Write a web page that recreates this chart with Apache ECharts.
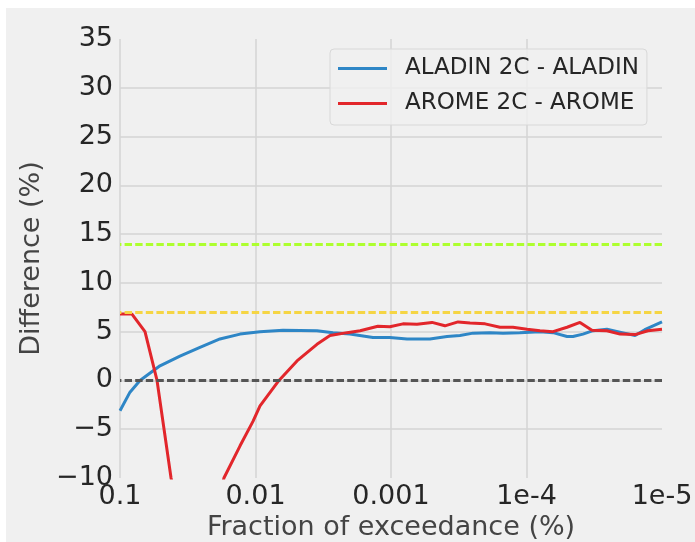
<!DOCTYPE html>
<html>
<head>
<meta charset="utf-8">
<script src="https://cdn.jsdelivr.net/npm/echarts@6/dist/echarts.min.js"></script>
<style>
html,body{margin:0;padding:0;background:#fff;}
#chart{width:695px;height:542px;}
</style>
</head>
<body>
<div id="chart"></div>
<script>
// ---- data ----
const seriesNames = ['ALADIN 2C - ALADIN', 'AROME 2C - AROME'];
const xTickLabels = ['0.1', '0.01', '0.001', '1e-4', '1e-5'];
const xTickValues = [0.1, 0.01, 0.001, 0.0001, 0.00001];

const aladinX = [0.1, 0.0844, 0.0712, 0.0507, 0.0361, 0.0257, 0.0183, 0.0130, 0.00926, 0.00627,
  0.00352, 0.00268, 0.00201, 0.00136, 0.00102, 0.000762, 0.000516, 0.000386, 0.000310, 0.000248,
  0.000186, 0.000149, 0.000112, 0.0000795, 0.0000637, 0.0000502, 0.0000454, 0.0000383, 0.0000323,
  0.0000255, 0.0000197, 0.0000158, 0.0000134, 0.00001];
const aladinY = [-3.1, -1.2, 0.0, 1.5, 2.5, 3.4, 4.25, 4.75, 5.0, 5.15,
  5.1, 4.9, 4.75, 4.4, 4.4, 4.25, 4.25, 4.5, 4.6, 4.85,
  4.9, 4.85, 4.9, 5.0, 4.9, 4.5, 4.5, 4.75, 5.1,
  5.25, 4.9, 4.6, 5.2, 6.0];

const aromeX = [0.1, 0.0816, 0.0654, 0.0533, 0.0473, 0.0420, 0.0270, 0.0171, 0.0130, 0.01044,
  0.00926, 0.00671, 0.00494, 0.00352, 0.00282, 0.00211, 0.00169, 0.00125, 0.00102, 0.000816,
  0.000643, 0.000498, 0.000400, 0.000320, 0.000261, 0.000202, 0.000157, 0.000126, 0.0000991,
  0.0000795, 0.0000637, 0.0000502, 0.0000403, 0.0000329, 0.0000255, 0.0000204, 0.0000158,
  0.0000127, 0.00001];
const aromeY = [6.8, 6.8, 5.0, 0.0, -5.0, -10.0, -22.0, -10.0, -6.7, -4.2,
  -2.6, 0.0, 2.0, 3.7, 4.6, 4.9, 5.1, 5.55, 5.5, 5.8,
  5.75, 5.95, 5.6, 6.0, 5.9, 5.8, 5.45, 5.45, 5.25,
  5.1, 5.0, 5.45, 5.95, 5.15, 5.1, 4.75, 4.7, 5.1, 5.25];

const refLevels = [14, 7, 0];
const refColors = ['#adff2f', '#f5d544', '#555555'];

// ---- chart ----
const font = 'DejaVu Sans';
const chart = echarts.init(document.getElementById('chart'), null, {renderer: 'canvas'});

function pairs(xs, ys) { return xs.map((x, i) => [x, ys[i]]); }

function xLabel(v) {
  const e = Math.round(Math.log10(v));
  for (let i = 0; i < xTickValues.length; i++) {
    if (Math.round(Math.log10(xTickValues[i])) === e) return xTickLabels[i];
  }
  return '';
}

const option = {
  backgroundColor: '#ffffff',
  animation: false,
  graphic: [{
    type: 'rect', z: -10, silent: true,
    shape: {x: 6, y: 8, width: 689, height: 534},
    style: {fill: '#f0f0f0'}
  }],
  grid: {left: 120, right: 33, top: 39, bottom: 64, containLabel: false, outerBoundsMode: 'none'},
  legend: {
    data: seriesNames,
    orient: 'vertical',
    left: 330, top: 49,
    padding: [6, 8, 8, 8],
    itemGap: 8,
    icon: 'rect',
    itemWidth: 49, itemHeight: 3,
    backgroundColor: 'rgba(240,240,240,0.8)',
    borderColor: '#d8d8d8', borderWidth: 1, borderRadius: 4,
    textStyle: {fontFamily: font, fontSize: 23, color: '#262626', lineHeight: 27, padding: [0, 0, 0, 13]}
  },
  xAxis: {
    type: 'log', logBase: 10, min: 0.00001, max: 0.1, inverse: true,
    name: 'Fraction of exceedance (%)', nameLocation: 'middle', nameGap: 36,
    nameTextStyle: {fontFamily: font, fontSize: 27, color: '#444444'},
    axisLine: {show: false}, axisTick: {show: false},
    axisLabel: {fontFamily: font, fontSize: 27, color: '#262626', margin: 5, formatter: xLabel},
    splitLine: {show: true, showMinLine: false, showMaxLine: false, lineStyle: {color: '#d4d4d4', width: 1.5}}
  },
  yAxis: {
    type: 'value', min: -10, max: 35, interval: 5,
    name: 'Difference (%)', nameLocation: 'middle', nameGap: 71,
    nameTextStyle: {fontFamily: font, fontSize: 27, color: '#444444'},
    axisLine: {show: false}, axisTick: {show: false},
    axisLabel: {fontFamily: font, fontSize: 27, color: '#262626', margin: 7,
      formatter: v => String(v).replace('-', '\u2212')},
    splitLine: {show: true, showMinLine: false, showMaxLine: false, lineStyle: {color: '#d4d4d4', width: 1.5}}
  },
  series: [
    {
      name: 'refs', type: 'line', data: [], z: 1, silent: true,
      markLine: {
        silent: true, symbol: 'none', label: {show: false}, animation: false,
        data: refLevels.map((v, i) => ({yAxis: v, lineStyle: {color: refColors[i], type: [7.4, 3.2], width: 2.8}}))
      }
    },
    {
      name: seriesNames[0], type: 'line', data: pairs(aladinX, aladinY), z: 3,
      showSymbol: false, symbol: 'none', clip: true,
      lineStyle: {color: '#2e86c6', width: 3}, itemStyle: {color: '#2e86c6'}
    },
    {
      name: seriesNames[1], type: 'line', data: pairs(aromeX, aromeY), z: 3,
      showSymbol: false, symbol: 'none', clip: true,
      lineStyle: {color: '#e2262b', width: 3}, itemStyle: {color: '#e2262b'}
    }
  ]
};
chart.setOption(option);
</script>
</body>
</html>
